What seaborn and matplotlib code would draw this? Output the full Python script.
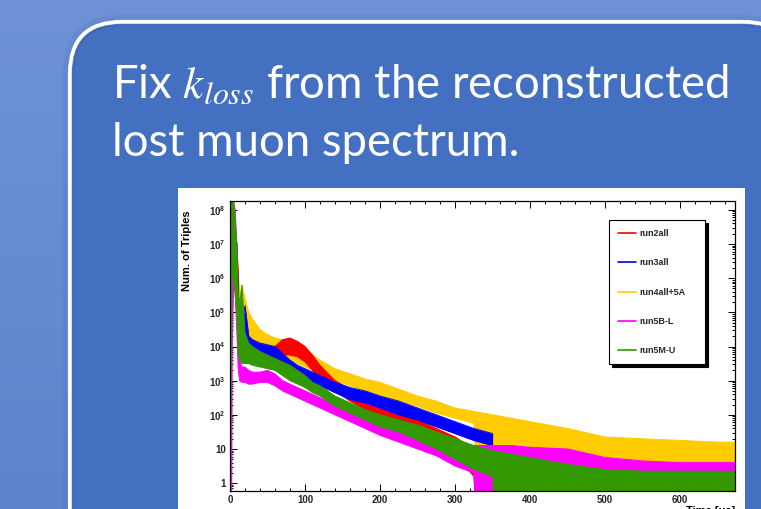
import numpy as np
import pandas as pd
import matplotlib
matplotlib.use("Agg")
import matplotlib.pyplot as plt
import seaborn as sns
from matplotlib.patches import FancyBboxPatch, Rectangle
from matplotlib.lines import Line2D
from matplotlib.colors import LinearSegmentedColormap
from matplotlib.ticker import LogLocator, MultipleLocator, NullFormatter, FuncFormatter

# ---------------------------------------------------------------------------
# Lost-muon triple-coincidence spectra for each run group.
# Every histogram is drawn as the band it fills on the log axis: the lower and
# upper edge of the bin contents, given as log10(counts), at these decay times.
# NA  -> no entries for that run group at this time
# ZERO -> bins that drop to zero counts (band reaches below the axis)
# ---------------------------------------------------------------------------
NA = np.nan
ZERO = -9.0

time_us = [0, 1, 3, 5, 7, 9, 11, 13, 16, 20, 25, 30, 40, 50, 60, 70, 80, 90,
           100, 110, 120, 140, 160, 180, 200, 225, 250, 275, 300, 325, 350,
           375, 400, 450, 500, 550, 600, 650, 673]

run4_hi = [6.5, 6.8, 7.0, 7.2, 7.0, 6.8, 6.3, 5.5, 5.8, 5.4, 5.0, 4.8, 4.5, 4.35,
           4.25, 4.2, 4.15, 4.05, 3.9, 3.75, 3.6, 3.35, 3.2, 3.05, 2.95, 2.75,
           2.55, 2.4, 2.2, 2.1, 2.0, 1.9, 1.8, 1.6, 1.35, 1.3, 1.25, 1.2, 1.2]
run4_lo = [ZERO, 6.0, 6.2, 6.2, 6.0, 5.5, 4.5, 4.0, 3.9, 3.8, 3.8, 3.75, 3.7, 3.7,
           3.7, 3.65, 3.6, 3.5, 3.4, 3.3, 3.2, 3.0, 2.85, 2.7, 2.55, 2.4, 2.25,
           2.05, 1.9, 1.75, ZERO, ZERO, ZERO, ZERO, ZERO, ZERO, ZERO, ZERO, ZERO]

run2_hi = [NA, 5.5, 7.0, 7.5, 7.5, 7.0, 6.2, 4.1, 4.0, 3.95, 3.9, 3.9, 3.9, 3.9,
           4.0, 4.2, 4.25, 4.15, 4.0, 3.75, 3.45, 3.0, 2.75, 2.5, 2.3, 2.05,
           1.85, 1.6, 1.35, 1.0, 0.5, 0.3, NA, NA, NA, NA, NA, NA, NA]
run2_lo = [NA, 3.0, 6.0, 6.3, 6.3, 6.0, 4.0, 3.6, 3.6, 3.6, 3.6, 3.6, 3.6, 3.6,
           3.65, 3.75, 3.75, 3.7, 3.55, 3.3, 3.0, 2.7, 2.4, 2.15, 1.95, 1.7,
           1.45, 1.15, 0.8, 0.2, ZERO, ZERO, NA, NA, NA, NA, NA, NA, NA]

run3_hi = [NA, 6.0, 7.8, 7.9, 7.5, 7.0, 5.5, 4.5, 4.6, 5.2, 4.3, 4.2, 4.1, 4.05,
           4.0, 3.8, 3.6, 3.45, 3.35, 3.25, 3.15, 2.95, 2.8, 2.7, 2.55, 2.4,
           2.2, 2.0, 1.8, 1.6, 1.45, NA, NA, NA, NA, NA, NA, NA, NA]
run3_lo = [NA, 3.0, 6.5, 6.8, 6.5, 5.5, 4.0, 3.9, 3.9, 3.8, 3.75, 3.7, 3.65, 3.6,
           3.55, 3.45, 3.3, 3.15, 3.05, 2.95, 2.85, 2.65, 2.45, 2.35, 2.2, 2.0,
           1.85, 1.65, 1.45, 1.25, 1.1, NA, NA, NA, NA, NA, NA, NA, NA]

run5bl_hi = [NA, 3.0, 7.5, 8.2, 8.0, 7.0, 4.3, 3.6, 3.4, 3.4, 3.3, 3.25, 3.25, 3.3,
             3.2, 3.0, 2.9, 2.8, 2.7, 2.6, 2.5, 2.3, 2.1, 1.95, 1.8, 1.6, 1.45,
             1.3, 1.15, 1.1, 1.1, 1.1, 1.05, 1.0, 0.75, 0.65, 0.6, 0.6, 0.6]
run5bl_lo = [NA, ZERO, 4.0, 6.0, 5.5, 4.5, 3.3, 3.0, 2.95, 2.95, 2.9, 2.9, 2.95,
             2.95, 2.85, 2.7, 2.6, 2.5, 2.4, 2.3, 2.2, 2.0, 1.8, 1.6, 1.4, 1.2,
             1.0, 0.8, 0.5, 0.3, ZERO, ZERO, ZERO, ZERO, ZERO, ZERO, ZERO, ZERO, ZERO]

run5mu_hi = [8.0, 8.2, 8.3, 8.3, 7.7, 7.0, 5.5, 5.3, 5.8, 4.4, 4.1, 4.0, 3.85,
             3.75, 3.65, 3.55, 3.45, 3.3, 3.15, 2.95, 2.85, 2.55, 2.35, 2.15, 2.0,
             1.85, 1.7, 1.5, 1.3, 1.1, 0.95, 0.85, 0.75, 0.55, 0.4, 0.35, 0.35, 0.35, 0.35]
run5mu_lo = [ZERO, 1.0, 6.0, 6.0, 5.5, 5.0, 3.8, 3.6, 3.5, 3.5, 3.5, 3.45, 3.4,
             3.35, 3.3, 3.15, 3.0, 2.9, 2.8, 2.65, 2.55, 2.25, 2.05, 1.85, 1.65,
             1.5, 1.25, 1.0, 0.7, 0.4, 0.2, ZERO, ZERO, ZERO, ZERO, ZERO, ZERO, ZERO, ZERO]

legend_labels = ["run2all", "run3all", "run4all+5A", "run5B-L", "run5M-U"]
series_colors = {"run2all": "#ff0000", "run3all": "#0000ff",
                 "run4all+5A": "#ffcc00", "run5B-L": "#ff00ff",
                 "run5M-U": "#339900"}
# ROOT draws the later histograms over the earlier ones
draw_order = [("run4all+5A", run4_lo, run4_hi), ("run2all", run2_lo, run2_hi),
              ("run3all", run3_lo, run3_hi), ("run5B-L", run5bl_lo, run5bl_hi),
              ("run5M-U", run5mu_lo, run5mu_hi)]

y_major = [1, 10, 1e2, 1e3, 1e4, 1e5, 1e6, 1e7, 1e8]

title_line1 = r"Fix $k_{loss}$ from the reconstructed"
title_line2 = "lost muon spectrum."

# ---------------------------------------------------------------------------
sns.set_theme(style="ticks")
plt.rcParams["font.family"] = ["Liberation Sans", "DejaVu Sans"]

W, H = 761, 509
fig = plt.figure(figsize=(W / 100, H / 100), dpi=100)

# slide background, rounded text box and the pasted histogram canvas
bg = fig.add_axes([0, 0, 1, 1], zorder=-10)
bg.set_xlim(0, W)
bg.set_ylim(H, 0)
bg.axis("off")
grad = LinearSegmentedColormap.from_list("slide", ["#6e92d5", "#5f84cc"])
bg.imshow(np.linspace(0, 1, 256).reshape(-1, 1), cmap=grad, aspect="auto",
          extent=[0, W, H, 0], zorder=0)
for k, a in enumerate([0.05, 0.05, 0.06]):
    bg.add_patch(FancyBboxPatch((68 - 2 * k, 20 - 2 * k), 727 + 4 * k, 600,
                                boxstyle="round,pad=0,rounding_size=%d" % (54 + 2 * k),
                                fc="none", ec="#1d3b75", lw=2.0, alpha=a, zorder=1))
bg.add_patch(FancyBboxPatch((70, 22), 725, 600,
                            boxstyle="round,pad=0,rounding_size=52",
                            fc="#4470c2", ec="white", lw=3.0, zorder=2))
bg.add_patch(FancyBboxPatch((73, 25), 719, 594,
                            boxstyle="round,pad=0,rounding_size=49",
                            fc="none", ec="#3d64b0", lw=2.0, alpha=0.6, zorder=2.1))
bg.add_patch(Rectangle((178, 188), 567, 330, fc="white", ec="none", zorder=3))

title_kw = dict(color="white", fontsize=32.8, family=["Lato", "DejaVu Sans"],
                math_fontfamily="stix", va="baseline", ha="left", zorder=4)
bg.text(112, 98, title_line1, **title_kw)
bg.text(112, 156, title_line2, **title_kw)

# ROOT-style histogram panel
ax = fig.add_axes([230 / W, (H - 491) / H, 505 / W, 290 / H])
ax.set_facecolor("white")
ax.set_yscale("log")

t = np.array(time_us, dtype=float)
for i, (name, lo, hi) in enumerate(draw_order):
    lo_c = np.power(10.0, np.array(lo, dtype=float))
    hi_c = np.power(10.0, np.array(hi, dtype=float))
    z = 2 + 0.1 * i
    ax.fill_between(t, lo_c, hi_c, color=series_colors[name], lw=0, zorder=z)
    edges = pd.DataFrame({
        "time": np.concatenate([t, t]),
        "counts": np.concatenate([hi_c, lo_c]),
        "edge": ["upper"] * len(t) + ["lower"] * len(t),
    }).dropna()
    sns.lineplot(data=edges, x="time", y="counts", units="edge", estimator=None,
                 color=series_colors[name], lw=0.7, ax=ax, legend=False,
                 sort=False, zorder=z)

ax.set_xlim(0, 673)
ax.set_ylim(10 ** -0.23, 10 ** 8.26)

ax.xaxis.set_major_locator(MultipleLocator(100))
ax.xaxis.set_minor_locator(MultipleLocator(20))
ax.yaxis.set_major_locator(LogLocator(base=10, numticks=20))
ax.yaxis.set_minor_locator(LogLocator(base=10, subs=np.arange(2, 10), numticks=20))
ax.yaxis.set_minor_formatter(NullFormatter())


def decade_label(v, _pos):
    e = int(round(np.log10(v)))
    if e == 0:
        return "1"
    if e == 1:
        return "10"
    return r"$\mathregular{10^{%d}}$" % e


ax.yaxis.set_major_formatter(FuncFormatter(decade_label))
ax.set_yticks(y_major)
ax.tick_params(which="both", direction="in", top=True, right=True,
               color="black", width=0.7)
ax.tick_params(which="major", length=5, pad=3, labelsize=7)
ax.tick_params(which="minor", length=2.5)
for lab in ax.get_xticklabels() + ax.get_yticklabels():
    lab.set_fontweight("bold")
for sp in ax.spines.values():
    sp.set_color("black")
    sp.set_linewidth(0.9)

ax.set_ylabel("Num. of Triples", fontsize=8, fontweight="bold", color="black")
ax.yaxis.set_label_coords(-0.075, 0.83)
ax.set_xlabel("Time [\u03bcs]", fontsize=8, fontweight="bold", color="black",
              loc="right")
ax.xaxis.label.set_va("top")
ax.xaxis.set_label_coords(1.0, -0.05)

handles = [Line2D([], [], color=series_colors[n], lw=1.2) for n in legend_labels]
leg = ax.legend(handles, legend_labels, loc="upper left",
                bbox_to_anchor=(0.750, 0.434, 0.191, 0.5), mode="expand",
                frameon=True, fancybox=False, framealpha=1,
                shadow={"color": "black", "alpha": 1.0},
                prop={"family": "Liberation Sans", "weight": "bold", "size": 6.5},
                handlelength=2.0, handletextpad=0.4, labelspacing=2.25,
                borderpad=1.0, borderaxespad=0)
leg.get_frame().set_edgecolor("black")
leg.get_frame().set_linewidth(0.8)
leg.set_zorder(10)

fig.savefig("out.png", dpi=100)
